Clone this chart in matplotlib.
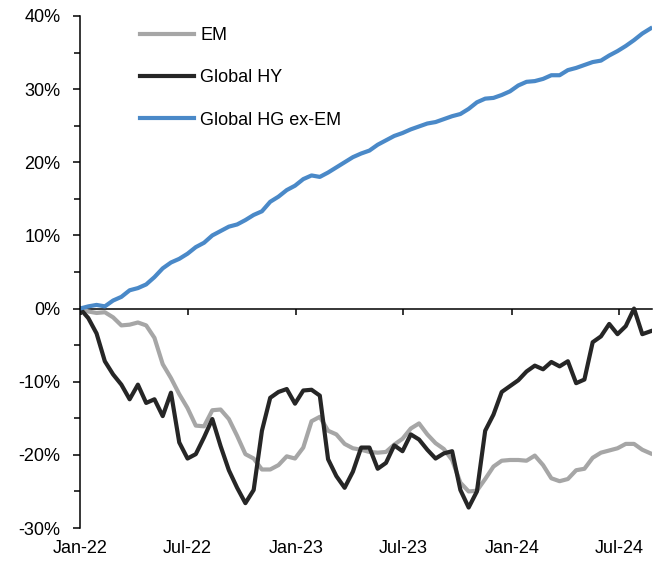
import pandas as pd
import matplotlib
matplotlib.use("Agg")
import matplotlib.pyplot as plt
import matplotlib.dates as mdates
from matplotlib.ticker import MultipleLocator, FuncFormatter

# fortnightly observations, cumulative return since end-2021 (%)
dates = pd.date_range("2021-12-31", periods=70, freq="14D")

em = [0.0, -0.4, -0.6, -0.5, -1.2, -2.3, -2.2, -1.9, -2.3, -4.0,
      -7.6, -9.5, -11.7, -13.6, -16.0, -16.1, -13.9, -13.8, -15.1, -17.4,
      -19.9, -20.5, -22.0, -22.0, -21.4, -20.2, -20.5, -19.0, -15.4, -14.8,
      -16.7, -17.2, -18.5, -19.1, -19.3, -19.6, -19.7, -19.6, -18.6, -17.8,
      -16.4, -15.7, -17.2, -18.4, -19.2, -20.7, -23.8, -25.0, -24.9, -23.3,
      -21.6, -20.8, -20.7, -20.7, -20.8, -20.1, -21.4, -23.2, -23.6, -23.3,
      -22.1, -21.9, -20.4, -19.7, -19.4, -19.1, -18.5, -18.5, -19.3, -19.8]

global_hy = [0.0, -1.3, -3.4, -7.2, -9.0, -10.4, -12.4, -10.4, -12.9, -12.4,
             -14.7, -11.5, -18.3, -20.5, -19.9, -17.6, -15.1, -18.8, -22.1, -24.5,
             -26.6, -24.8, -16.7, -12.2, -11.4, -11.0, -13.0, -11.2, -11.1, -11.9,
             -20.6, -22.9, -24.5, -22.3, -19.0, -19.0, -21.9, -21.1, -18.7, -19.5,
             -17.2, -17.9, -19.3, -20.5, -19.8, -19.5, -24.8, -27.2, -25.0, -16.7,
             -14.5, -11.4, -10.6, -9.8, -8.6, -7.8, -8.3, -7.3, -7.9, -7.2,
             -10.2, -9.7, -4.6, -3.8, -2.1, -3.5, -2.4, 0.0, -3.5, -3.1]

global_hg_ex_em = [0.0, 0.3, 0.5, 0.3, 1.1, 1.6, 2.5, 2.8, 3.3, 4.3,
                   5.5, 6.3, 6.8, 7.5, 8.4, 9.0, 10.0, 10.6, 11.2, 11.5,
                   12.1, 12.8, 13.3, 14.6, 15.3, 16.2, 16.8, 17.7, 18.2, 18.0,
                   18.6, 19.3, 20.0, 20.7, 21.2, 21.6, 22.4, 23.0, 23.6, 24.0,
                   24.5, 24.9, 25.3, 25.5, 25.9, 26.3, 26.6, 27.3, 28.2, 28.7,
                   28.8, 29.2, 29.7, 30.5, 31.0, 31.1, 31.4, 31.9, 31.9, 32.6,
                   32.9, 33.3, 33.7, 33.9, 34.6, 35.2, 35.9, 36.7, 37.6, 38.3]

tick_dates = pd.to_datetime(["2022-01-01", "2022-07-01", "2023-01-01",
                             "2023-07-01", "2024-01-01", "2024-07-01"])

plt.rcParams["font.family"] = ["Liberation Sans", "DejaVu Sans"]
plt.rcParams["font.size"] = 13

fig = plt.figure(figsize=(6.57, 5.61), dpi=100)
ax = fig.add_axes([0.1218, 0.0588, 0.8702, 0.9127])

lw = 3.0
ax.plot(dates, em, color="#A6A6A6", lw=lw, label="EM", solid_joinstyle="round")
ax.plot(dates, global_hy, color="#262626", lw=lw, label="Global HY", solid_joinstyle="round")
ax.plot(dates, global_hg_ex_em, color="#4A89C8", lw=lw, label="Global HG ex-EM",
        solid_joinstyle="round")

ax.set_ylim(-30, 40)
ax.set_xlim(dates[0], dates[0] + pd.Timedelta(days=968))

# eixo y: rótulos a cada 10%, marcas a cada 5%
ax.yaxis.set_major_locator(MultipleLocator(10))
ax.yaxis.set_minor_locator(MultipleLocator(5))
ax.yaxis.set_major_formatter(FuncFormatter(lambda v, p: f"{v:.0f}%"))
ax.tick_params(axis="y", which="major", direction="out", length=5, width=1.1, pad=9)
ax.tick_params(axis="y", which="minor", direction="out", length=4, width=1.1)

# eixo x: linha no zero com marcas, rótulos embaixo
for s in ["top", "right"]:
    ax.spines[s].set_visible(False)
ax.spines["left"].set_linewidth(1.1)
ax.spines["bottom"].set_position(("data", 0))
ax.spines["bottom"].set_linewidth(1.1)
ax.spines["bottom"].set_zorder(0.5)
ax.set_xticks(tick_dates)
ax.tick_params(axis="x", direction="out", length=4, width=1.1, labelbottom=False)

sec = ax.secondary_xaxis("bottom")
sec.set_xticks(tick_dates)
sec.xaxis.set_major_formatter(mdates.DateFormatter("%b-%y"))
sec.spines["bottom"].set_visible(False)
sec.tick_params(axis="x", length=0, pad=8.5)

ax.legend(loc="upper left", bbox_to_anchor=(0.076, 1.01), frameon=False,
          handlelength=3.0, handletextpad=0.35, labelspacing=1.4)

fig.savefig("out.png", dpi=100)
